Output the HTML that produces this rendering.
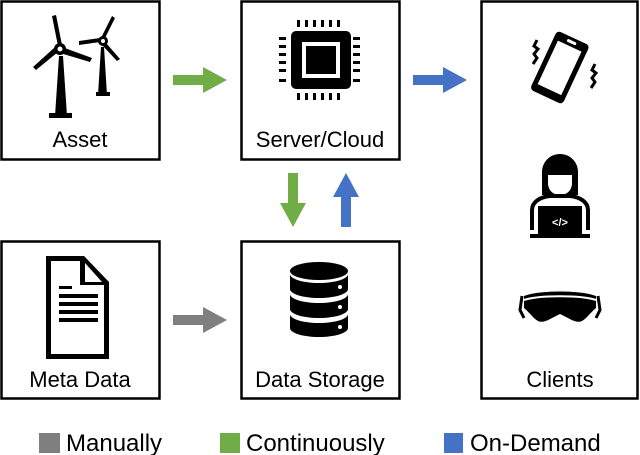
<!DOCTYPE html>
<html><head><meta charset="utf-8"><style>
html,body{margin:0;padding:0;background:#fff}
svg{display:block}
text{font-family:"Liberation Sans",sans-serif;fill:#000}
</style></head><body>
<svg width="640" height="455" viewBox="0 0 640 455">
<g fill="none" stroke="#000" stroke-width="2.5">
<rect x="1.5" y="1.5" width="158" height="158"/>
<rect x="241.5" y="1.5" width="158" height="158"/>
<rect x="481.5" y="1.5" width="156" height="397"/>
<rect x="1.5" y="241.5" width="158" height="157"/>
<rect x="241.5" y="241.5" width="158" height="157"/>
</g>
<g font-size="22" text-anchor="middle">
<text x="80" y="147">Asset</text>
<text x="320" y="147">Server/Cloud</text>
<text x="80" y="387">Meta Data</text>
<text x="320" y="387">Data Storage</text>
<text x="560" y="387">Clients</text>
</g>
<!-- arrows -->
<path d="M173 75h30v-8l24 13-24 13v-8h-30z" fill="#70ad47"/>
<path d="M413 75h30v-8l24 13-24 13v-8h-30z" fill="#4472c4"/>
<path d="M173 315h30v-8l24 13-24 13v-8h-30z" fill="#7f7f7f"/>
<path d="M288 173h10v30h8l-13 24-13-24h8z" fill="#70ad47"/>
<path d="M341 227h10v-30h8l-13-24-13 24h8z" fill="#4472c4"/>
<!-- turbines -->
<g fill="#000">
<path d="M55 116l4-60h4l4 60z"/><rect x="49" y="113" width="23" height="5"/>
<circle cx="60" cy="49" r="6"/>
<path d="M58 46l-6-30 4-1 6 30z"/><path d="M58 52l-22 18-3-3 21-19z"/><path d="M62 47l30 11-2 4-30-9z"/>
<path d="M98 95l3-48h3l3 48z"/><rect x="96" y="92" width="14" height="4"/>
<circle cx="103" cy="41" r="5"/>
<path d="M101 38l11-22 3 2-11 22z"/><path d="M100 42l-21 3 0-4 21-3z"/><path d="M106 43l14 16-3 2-14-15z"/>
</g>
<circle cx="60" cy="49" r="2.5" fill="#fff"/><circle cx="103" cy="41" r="2" fill="#fff"/>
<!-- chip -->
<rect x="291" y="31" width="60" height="58" rx="5" fill="#000"/>
<rect x="302" y="42" width="38" height="36" fill="#fff"/>
<rect x="306" y="46" width="30" height="28" fill="#000"/>
<g fill="#000">
<path d="M297 20h3v7h-3zM305 20h3v7h-3zM313 20h3v7h-3zM321 20h3v7h-3zM329 20h3v7h-3zM337 20h3v7h-3z"/>
<path d="M297 93h3v7h-3zM305 93h3v7h-3zM313 93h3v7h-3zM321 93h3v7h-3zM329 93h3v7h-3zM337 93h3v7h-3z"/>
<path d="M279 37h7v3h-7zM279 45h7v3h-7zM279 53h7v3h-7zM279 61h7v3h-7zM279 69h7v3h-7zM279 79h7v3h-7z"/>
<path d="M353 37h7v3h-7zM353 45h7v3h-7zM353 53h7v3h-7zM353 61h7v3h-7zM353 69h7v3h-7zM353 79h7v3h-7z"/>
</g>
<!-- document -->
<path d="M46 256h38l25 26v77h-63z" fill="#000"/>
<path d="M51 261h29v24h24v69h-53z" fill="#fff"/>
<path d="M85 263l17 19h-17z" fill="#fff"/>
<g fill="#000"><rect x="59" y="286" width="13" height="3"/><rect x="59" y="294" width="39" height="4"/><rect x="59" y="302" width="39" height="4"/><rect x="59" y="310" width="39" height="4"/><rect x="59" y="318" width="39" height="4"/></g>
<!-- database -->
<g fill="#000">
<ellipse cx="319" cy="271" rx="29" ry="9"/>
<path d="M290 274v15c0 5 13 9 29 9s29-4 29-9v-15c0 5-13 9-29 9s-29-4-29-9z"/>
<path d="M290 294v15c0 5 13 9 29 9s29-4 29-9v-15c0 5-13 9-29 9s-29-4-29-9z"/>
<path d="M290 314v14c0 5 13 9 29 9s29-4 29-9v-14c0 5-13 9-29 9s-29-4-29-9z"/>
</g>
<g fill="#fff"><circle cx="340" cy="287" r="2"/><circle cx="340" cy="307" r="2"/><circle cx="340" cy="327" r="2"/></g>
<!-- phone -->
<g transform="rotate(25 560 67)">
<rect x="542" y="35" width="36" height="65" rx="4" fill="#000"/>
<rect x="547" y="44" width="26" height="48" fill="#fff"/>
<rect x="555" y="38" width="10" height="3" rx="1.5" fill="#fff"/>
</g>
<path d="M537 40l-3 6 4 3-4 5 3 4-4 6" stroke="#000" stroke-width="3" fill="none"/>
<path d="M595 64l-3 6 4 3-4 5 3 4-4 6" stroke="#000" stroke-width="3" fill="none"/>
<!-- person -->
<path d="M542 195v-23c0-10 8-18 18-18s18 8 18 18v23z" fill="#000"/>
<path d="M548 175h24v8c0 8-6 12-12 12s-12-4-12-12z" fill="#fff"/>
<path d="M532 230v-20c0-8 8-13 18-14h20c10 1 18 6 18 14v20" stroke="#000" stroke-width="4" fill="none"/>
<rect x="538" y="206" width="44" height="28" fill="#000"/>
<rect x="530" y="234" width="60" height="4" fill="#000"/>
<text x="560" y="226" font-size="11" text-anchor="middle" style="fill:#fff;font-weight:bold">&lt;/&gt;</text>
<!-- headset -->
<path d="M524 296c15-6 57-6 72 0v12c-5 4-10 11-14 13-6 3-13-3-22-7-9 4-16 10-22 7-4-2-9-9-14-13z" fill="#000"/>
<path d="M524 300c15-5 57-5 72 0" stroke="#fff" stroke-width="2" fill="none"/>
<path d="M522 296l-2 14 4 8M598 296l2 14-4 8" stroke="#000" stroke-width="3" fill="none"/>
<!-- legend -->
<rect x="39" y="433" width="21" height="20" fill="#7f7f7f"/>
<rect x="220" y="433" width="20" height="20" fill="#70ad47"/>
<rect x="444" y="433" width="19" height="20" fill="#4472c4"/>
<g font-size="24">
<text x="66" y="451">Manually</text>
<text x="246" y="451">Continuously</text>
<text x="470" y="451">On-Demand</text>
</g>
</svg>
</body></html>
